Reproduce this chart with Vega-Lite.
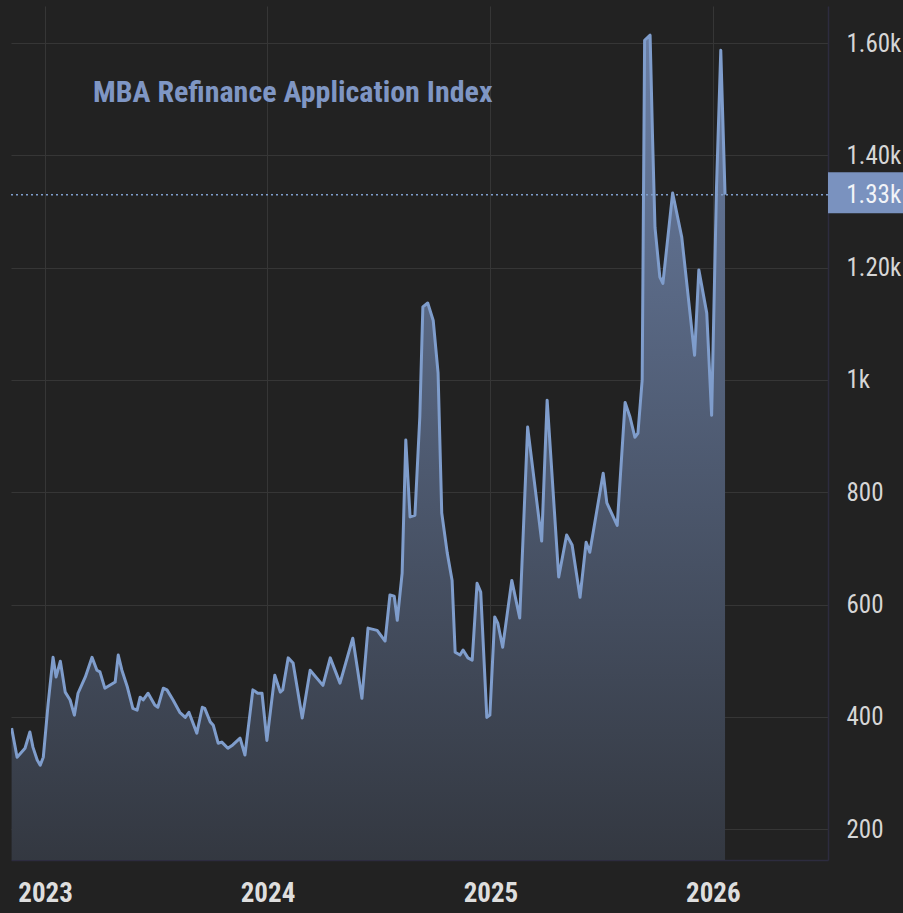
{
  "$schema": "https://vega.github.io/schema/vega-lite/v6.json",
  "autosize": {"type": "none"},
  "padding": {"left": 11, "top": 6, "right": 75, "bottom": 53},
  "width": 817,
  "height": 854,
  "background": "#222222",
  "title": {
    "text": "MBA Refinance Application Index",
    "anchor": "start",
    "frame": "group",
    "orient": "top",
    "offset": -132,
    "dx": 82,
    "baseline": "bottom",
    "font": "'Roboto Condensed', 'DejaVu Sans Condensed', sans-serif",
    "fontSize": 30,
    "fontWeight": "bold",
    "color": "#7f96c4"
  },
  "config": {
    "view": {"stroke": null, "fill": "#222222"},
    "axis": {
      "labelFont": "'Roboto Condensed', 'DejaVu Sans Condensed', sans-serif",
      "gridColor": "#363636",
      "gridWidth": 1,
      "ticks": false,
      "domainColor": "#2d2c3f",
      "domainWidth": 1.5,
      "title": null
    }
  },
  "layer": [
    {
      "data": {
        "values": [
          {"d": "2022-11-07", "v": 380}, {"d": "2022-11-16", "v": 328}, {"d": "2022-11-29", "v": 344},
          {"d": "2022-12-07", "v": 373}, {"d": "2022-12-12", "v": 346}, {"d": "2022-12-19", "v": 323},
          {"d": "2022-12-24", "v": 314}, {"d": "2022-12-29", "v": 328}, {"d": "2023-01-06", "v": 424},
          {"d": "2023-01-14", "v": 506}, {"d": "2023-01-19", "v": 471}, {"d": "2023-01-26", "v": 499},
          {"d": "2023-02-03", "v": 444}, {"d": "2023-02-11", "v": 430}, {"d": "2023-02-18", "v": 403},
          {"d": "2023-02-24", "v": 442}, {"d": "2023-03-08", "v": 471}, {"d": "2023-03-19", "v": 506},
          {"d": "2023-03-27", "v": 483}, {"d": "2023-04-01", "v": 480}, {"d": "2023-04-09", "v": 451},
          {"d": "2023-04-26", "v": 462}, {"d": "2023-05-01", "v": 510}, {"d": "2023-05-07", "v": 483},
          {"d": "2023-05-16", "v": 453}, {"d": "2023-05-25", "v": 415}, {"d": "2023-06-01", "v": 412},
          {"d": "2023-06-06", "v": 435}, {"d": "2023-06-11", "v": 430}, {"d": "2023-06-19", "v": 442},
          {"d": "2023-06-30", "v": 421}, {"d": "2023-07-05", "v": 417}, {"d": "2023-07-14", "v": 451},
          {"d": "2023-07-20", "v": 448}, {"d": "2023-07-30", "v": 430}, {"d": "2023-08-10", "v": 408},
          {"d": "2023-08-19", "v": 399}, {"d": "2023-08-25", "v": 408}, {"d": "2023-09-07", "v": 371},
          {"d": "2023-09-16", "v": 417}, {"d": "2023-09-20", "v": 415}, {"d": "2023-09-29", "v": 391},
          {"d": "2023-10-04", "v": 385}, {"d": "2023-10-12", "v": 353}, {"d": "2023-10-18", "v": 355},
          {"d": "2023-10-28", "v": 344}, {"d": "2023-11-05", "v": 350}, {"d": "2023-11-17", "v": 362},
          {"d": "2023-11-25", "v": 332}, {"d": "2023-12-08", "v": 448}, {"d": "2023-12-16", "v": 442},
          {"d": "2023-12-23", "v": 442}, {"d": "2023-12-31", "v": 358}, {"d": "2024-01-13", "v": 474},
          {"d": "2024-01-22", "v": 444}, {"d": "2024-01-26", "v": 448}, {"d": "2024-02-04", "v": 505},
          {"d": "2024-02-12", "v": 496}, {"d": "2024-02-27", "v": 398}, {"d": "2024-03-11", "v": 483},
          {"d": "2024-04-01", "v": 456}, {"d": "2024-04-13", "v": 505}, {"d": "2024-04-29", "v": 460},
          {"d": "2024-05-20", "v": 540}, {"d": "2024-06-04", "v": 433}, {"d": "2024-06-14", "v": 558},
          {"d": "2024-06-29", "v": 554}, {"d": "2024-07-12", "v": 535}, {"d": "2024-07-20", "v": 617},
          {"d": "2024-07-27", "v": 615}, {"d": "2024-08-01", "v": 572}, {"d": "2024-08-09", "v": 656},
          {"d": "2024-08-15", "v": 893}, {"d": "2024-08-22", "v": 756}, {"d": "2024-08-30", "v": 759},
          {"d": "2024-09-07", "v": 934}, {"d": "2024-09-12", "v": 1130}, {"d": "2024-09-20", "v": 1137},
          {"d": "2024-09-29", "v": 1106}, {"d": "2024-10-07", "v": 1012}, {"d": "2024-10-13", "v": 763},
          {"d": "2024-10-22", "v": 692}, {"d": "2024-10-30", "v": 643}, {"d": "2024-11-04", "v": 515},
          {"d": "2024-11-12", "v": 510}, {"d": "2024-11-17", "v": 519}, {"d": "2024-11-25", "v": 505},
          {"d": "2024-12-02", "v": 501}, {"d": "2024-12-10", "v": 638}, {"d": "2024-12-16", "v": 622},
          {"d": "2024-12-26", "v": 399}, {"d": "2024-12-31", "v": 403}, {"d": "2025-01-08", "v": 578},
          {"d": "2025-01-13", "v": 567}, {"d": "2025-01-21", "v": 524}, {"d": "2025-02-05", "v": 643},
          {"d": "2025-02-18", "v": 576}, {"d": "2025-03-03", "v": 916}, {"d": "2025-03-26", "v": 713},
          {"d": "2025-04-04", "v": 964}, {"d": "2025-04-23", "v": 649}, {"d": "2025-05-06", "v": 724},
          {"d": "2025-05-15", "v": 706}, {"d": "2025-05-28", "v": 613}, {"d": "2025-06-07", "v": 711},
          {"d": "2025-06-13", "v": 693}, {"d": "2025-07-05", "v": 834}, {"d": "2025-07-11", "v": 781},
          {"d": "2025-07-28", "v": 741}, {"d": "2025-08-10", "v": 960}, {"d": "2025-08-18", "v": 934},
          {"d": "2025-08-26", "v": 898}, {"d": "2025-08-31", "v": 905}, {"d": "2025-09-07", "v": 1000},
          {"d": "2025-09-11", "v": 1605}, {"d": "2025-09-20", "v": 1614}, {"d": "2025-09-24", "v": 1432},
          {"d": "2025-09-28", "v": 1272}, {"d": "2025-10-06", "v": 1183}, {"d": "2025-10-11", "v": 1172},
          {"d": "2025-10-27", "v": 1333}, {"d": "2025-11-11", "v": 1254}, {"d": "2025-12-02", "v": 1044},
          {"d": "2025-12-09", "v": 1196}, {"d": "2025-12-22", "v": 1119}, {"d": "2025-12-30", "v": 937},
          {"d": "2026-01-07", "v": 1343}, {"d": "2026-01-14", "v": 1587}, {"d": "2026-01-21", "v": 1330}
        ]
      },
      "mark": {
        "type": "area",
        "opacity": 1,
        "clip": true,
        "color": {
          "gradient": "linear",
          "x1": 0, "y1": 1, "x2": 0, "y2": 0,
          "stops": [
            {"offset": 0, "color": "#2e3137"},
            {"offset": 1, "color": "#6a7ea3"}
          ]
        },
        "line": {"color": "#7f9dcc", "strokeWidth": 3, "strokeJoin": "round"}
      },
      "encoding": {
        "x": {
          "field": "d",
          "type": "temporal",
          "scale": {
            "domain": [
              {"year": 2022, "month": 11, "date": 6, "utc": true},
              {"year": 2026, "month": 7, "date": 9, "utc": true}
            ],
            "nice": false
          },
          "axis": {
            "orient": "bottom",
            "format": "%Y",
            "tickCount": {"interval": "year", "step": 1},
            "grid": true,
            "domain": true,
            "labelFontSize": 27,
            "labelFontWeight": "bold",
            "labelColor": "#dedede",
            "labelPadding": 20,
            "labelFlush": false,
            "labelOverlap": false
          }
        },
        "y": {
          "field": "v",
          "type": "quantitative",
          "scale": {"domain": [145, 1666], "zero": false, "nice": false},
          "axis": {
            "orient": "right",
            "values": [200, 400, 600, 800, 1000, 1200, 1400, 1600],
            "labelExpr": "datum.value >= 1000 ? (datum.value == 1000 ? '1k' : format(datum.value / 1000, '.2f') + 'k') : format(datum.value, 'd')",
            "grid": true,
            "domain": true,
            "labelFontSize": 25,
            "labelColor": "#d6d6d6",
            "labelAlign": "left",
            "labelBaseline": "middle",
            "labelPadding": 18
          }
        }
      }
    },
    {
      "data": {"values": [{}]},
      "mark": {"type": "rule", "color": "#7f9dcc", "strokeWidth": 1.5, "strokeDash": [2, 3]},
      "encoding": {"y": {"datum": 1330}}
    },
    {
      "data": {"values": [{}]},
      "mark": {"type": "rect", "color": "#7a92bf", "clip": false},
      "encoding": {
        "x": {"datum": {"year": 2026, "month": 7, "date": 9, "utc": true}},
        "x2": {"datum": {"year": 2026, "month": 11, "date": 25, "utc": true}},
        "y": {"datum": 1370},
        "y2": {"datum": 1297}
      }
    },
    {
      "data": {"values": [{}]},
      "mark": {
        "type": "text",
        "text": "1.33k",
        "align": "left",
        "baseline": "middle",
        "font": "'Roboto Condensed', 'DejaVu Sans Condensed', sans-serif",
        "fontSize": 25,
        "color": "#f2f4f8",
        "clip": false
      },
      "encoding": {
        "x": {"datum": {"year": 2026, "month": 8, "date": 8, "utc": true}},
        "y": {"datum": 1330}
      }
    }
  ]
}
